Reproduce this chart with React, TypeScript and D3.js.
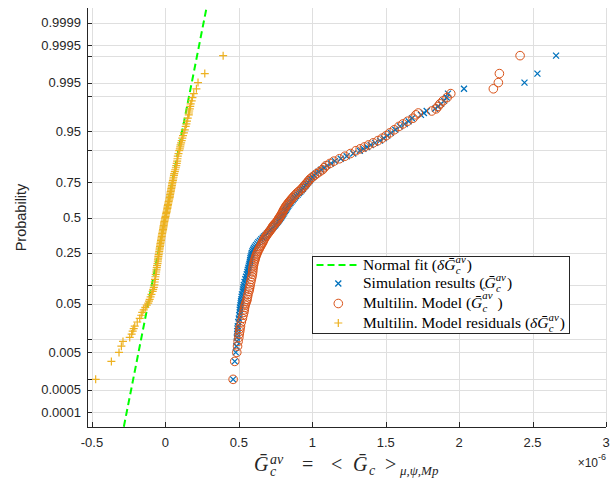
import React from 'react';
import * as d3 from 'd3';

// ---- data (values in units of 1e-6) ----
const N_SAMPLES = 500;
const ranks = [1, 2, 3, 4, 5, 6, 7, 8, 9, 10, 12, 14, 16, 18, 20, 22, 24, 26, 28, 30, 33, 36, 40, 43, 46,
  50, 55, 60, 65, 70, 75, 80, 85, 90, 95, 100, 105, 110, 115, 120, 125, 130, 135, 140, 145, 150, 155, 160, 165, 170, 175,
  180, 185, 190, 195, 200, 205, 210, 215, 220, 225, 230, 235, 240, 245, 250, 255, 260, 265, 270, 275, 280, 285, 290, 295, 300,
  305, 310, 315, 320, 325, 330, 335, 340, 345, 350, 355, 360, 365, 370, 375, 380, 385, 390, 395, 400, 405, 410, 415, 420, 425,
  430, 435, 440, 445, 450,
  453, 456, 459, 462, 465, 468, 471, 474, 477, 480, 482, 484, 486, 488, 489, 490, 491, 492, 493, 494, 495, 496, 497, 498, 499, 500];

const simulationValues = [0.461, 0.472, 0.479, 0.483, 0.486, 0.486, 0.489, 0.489, 0.491, 0.493, 0.496, 0.500, 0.503, 0.506, 0.506,
  0.508, 0.511, 0.513, 0.515, 0.517, 0.519, 0.521, 0.527, 0.529, 0.531,
  0.534, 0.539, 0.544, 0.549, 0.554, 0.558, 0.561, 0.565, 0.568, 0.572, 0.575, 0.577, 0.579, 0.581, 0.585, 0.588, 0.592, 0.597, 0.603, 0.609,
  0.617, 0.625, 0.633, 0.643, 0.653, 0.663, 0.672, 0.682, 0.691, 0.700, 0.709, 0.718, 0.727, 0.736, 0.745, 0.752, 0.759, 0.766, 0.773, 0.779,
  0.786, 0.792, 0.797, 0.803, 0.809, 0.814, 0.820, 0.826, 0.831, 0.837, 0.844, 0.851, 0.858, 0.866, 0.873, 0.881, 0.890, 0.900, 0.909, 0.918,
  0.927, 0.936, 0.945, 0.954, 0.963, 0.972, 0.981, 0.990, 1.002, 1.013, 1.025, 1.042, 1.059, 1.080, 1.100, 1.127, 1.154, 1.194, 1.234, 1.279, 1.324,
  1.348, 1.373, 1.398, 1.428, 1.461, 1.486, 1.510, 1.535, 1.565, 1.597, 1.629, 1.656, 1.679, 1.740, 1.760, 1.779,
  1.836, 1.856, 1.877, 1.897, 1.915, 1.924, 2.033, 2.445, 2.533, 2.660];

const modelValues = [0.461, 0.472, 0.486, 0.491, 0.495, 0.500, 0.503, 0.506, 0.508, 0.511, 0.517, 0.524, 0.529, 0.534, 0.537,
  0.539, 0.543, 0.547, 0.552, 0.556, 0.559, 0.562, 0.568, 0.571, 0.574,
  0.577, 0.581, 0.585, 0.589, 0.592, 0.594, 0.595, 0.597, 0.599, 0.602, 0.605, 0.609, 0.612, 0.616, 0.620, 0.625, 0.629, 0.635, 0.640, 0.646,
  0.652, 0.657, 0.663, 0.667, 0.672, 0.677, 0.684, 0.690, 0.697, 0.704, 0.711, 0.718, 0.724, 0.729, 0.735, 0.743, 0.751, 0.759, 0.765, 0.770,
  0.776, 0.782, 0.787, 0.793, 0.797, 0.802, 0.806, 0.812, 0.817, 0.823, 0.830, 0.837, 0.844, 0.852, 0.860, 0.868, 0.877, 0.886, 0.895, 0.906,
  0.918, 0.929, 0.938, 0.947, 0.956, 0.966, 0.975, 0.985, 0.999, 1.015, 1.031, 1.050, 1.069, 1.081, 1.093, 1.120, 1.147, 1.185, 1.222, 1.260, 1.297,
  1.326, 1.355, 1.383, 1.415, 1.447, 1.476, 1.503, 1.528, 1.558, 1.590, 1.617, 1.649, 1.686, 1.706, 1.722, 1.813,
  1.843, 1.856, 1.870, 1.890, 1.918, 1.943, 2.233, 2.267, 2.274, 2.415];

const residualValues = [-0.475, -0.368, -0.316, -0.300, -0.289, -0.243, -0.230, -0.223, -0.216, -0.209, -0.192, -0.175, -0.165, -0.158, -0.148,
  -0.137, -0.127, -0.117, -0.112, -0.107, -0.101, -0.095, -0.087, -0.083, -0.079,
  -0.075, -0.073, -0.071, -0.068, -0.066, -0.063, -0.061, -0.059, -0.057, -0.054, -0.052, -0.051, -0.049, -0.048, -0.046, -0.044, -0.042, -0.040, -0.039, -0.037,
  -0.035, -0.034, -0.032, -0.030, -0.029, -0.027, -0.025, -0.024, -0.022, -0.020, -0.018, -0.016, -0.015, -0.013, -0.012, -0.010, -0.009, -0.007, -0.005, -0.003,
  -0.001, 0.001, 0.003, 0.005, 0.007, 0.009, 0.011, 0.013, 0.014, 0.016, 0.018, 0.020, 0.022, 0.024, 0.027, 0.029, 0.031, 0.032, 0.034, 0.036,
  0.038, 0.040, 0.042, 0.044, 0.046, 0.048, 0.051, 0.053, 0.055, 0.058, 0.060, 0.064, 0.067, 0.071, 0.074, 0.077, 0.080, 0.082, 0.084, 0.089, 0.094,
  0.098, 0.101, 0.103, 0.107, 0.111, 0.115, 0.120, 0.126, 0.132, 0.138, 0.143, 0.147, 0.152, 0.159, 0.160, 0.162,
  0.166, 0.169, 0.172, 0.179, 0.184, 0.193, 0.211, 0.222, 0.268, 0.393];

const fitMean = -0.002;
const fitStd = 0.0704;

const xTicks = [-0.5, 0, 0.5, 1, 1.5, 2, 2.5, 3];
const yTickProbs = [0.0001, 0.0005, 0.001, 0.005, 0.01, 0.05, 0.1, 0.25, 0.5, 0.75, 0.9, 0.95, 0.99, 0.995, 0.999, 0.9995, 0.9999];
const yTickLabels = ['0.0001', '0.0005', '', '0.005', '', '0.05', '', '0.25', '0.5', '0.75', '', '0.95', '', '0.995', '', '0.9995', '0.9999'];

const COLORS = { sim: '#0072BD', model: '#D95319', resid: '#EDB120', fit: '#00FF00', axis: '#262626', grid: '#dfdfdf' };

// inverse standard normal CDF (Acklam)
function normInv(p: number): number {
  const a = [-3.969683028665376e+01, 2.209460984245205e+02, -2.759285104469687e+02, 1.383577518672690e+02, -3.066479806614716e+01, 2.506628277459239e+00];
  const b = [-5.447609879822406e+01, 1.615858368580409e+02, -1.556989798598866e+02, 6.680131188771972e+01, -1.328068155288572e+01];
  const c = [-7.784894002430293e-03, -3.223964580411365e-01, -2.400758277161838e+00, -2.549671893984431e+00, 4.374664141464968e+00, 2.938163982698783e+00];
  const d = [7.784695709041462e-03, 3.224671290700398e-01, 2.445134137142996e+00, 3.754408661907416e+00];
  const plow = 0.02425, phigh = 1 - plow;
  if (p < plow) {
    const q = Math.sqrt(-2 * Math.log(p));
    return (((((c[0] * q + c[1]) * q + c[2]) * q + c[3]) * q + c[4]) * q + c[5]) / ((((d[0] * q + d[1]) * q + d[2]) * q + d[3]) * q + 1);
  }
  if (p <= phigh) {
    const q = p - 0.5, r = q * q;
    return (((((a[0] * r + a[1]) * r + a[2]) * r + a[3]) * r + a[4]) * r + a[5]) * q / (((((b[0] * r + b[1]) * r + b[2]) * r + b[3]) * r + b[4]) * r + 1);
  }
  const q = Math.sqrt(-2 * Math.log(1 - p));
  return -(((((c[0] * q + c[1]) * q + c[2]) * q + c[3]) * q + c[4]) * q + c[5]) / ((((d[0] * q + d[1]) * q + d[2]) * q + d[3]) * q + 1);
}

const W = 616, H = 478;
const L = 87, R = 606, T = 8, B = 427;
const x = d3.scaleLinear().domain([-0.534, 3]).range([L, R]);
const z = d3.scaleLinear().domain([-4, 4]).range([B, T]);
const yP = (p: number) => z(normInv(p));
const rankProb = (r: number) => (r - 0.5) / N_SAMPLES;

const SANS = '"Liberation Sans", Arial, Helvetica, sans-serif';
const SERIF = '"Liberation Serif", "Times New Roman", serif';

function XMark({ cx, cy, s = 3 }: { cx: number; cy: number; s?: number }) {
  return <path d={`M${cx - s},${cy - s}L${cx + s},${cy + s}M${cx - s},${cy + s}L${cx + s},${cy - s}`} stroke={COLORS.sim} strokeWidth={1.3} fill="none" />;
}
function OMark({ cx, cy }: { cx: number; cy: number }) {
  return <circle cx={cx} cy={cy} r={4.3} stroke={COLORS.model} strokeWidth={1} fill="none" />;
}
function PMark({ cx, cy, s = 4 }: { cx: number; cy: number; s?: number }) {
  return <path d={`M${cx - s},${cy}H${cx + s}M${cx},${cy - s}V${cy + s}`} stroke={COLORS.resid} strokeWidth={1.2} fill="none" />;
}

// G with bar, and stacked super/sub scripts
function GBar({ sub = 'c', sup = 'av', fs, supW, subW, supRaise = 0.42 }: any) {
  return (
    <>
      <tspan fontStyle="italic">{'G\u0304'}</tspan>
      <tspan fontStyle="italic" fontSize={fs * 0.7} dy={-fs * supRaise}>{sup}</tspan>
      <tspan fontStyle="italic" fontSize={fs * 0.7} dx={-supW} dy={fs * supRaise + fs * 0.28}>{sub}</tspan>
      <tspan fontSize={fs} dx={supW - subW} dy={-fs * 0.28}>{'\u200A'}</tspan>
    </>
  );
}

export default function App() {
  const fitLine = d3.line<number>().x((zz) => x(fitMean + fitStd * zz)).y((zz) => z(zz));
  const legendFs = 15.5;
  const legendX = 363;
  const rowsY = [269.5, 288, 308, 327.5];
  const supW = 10, subW = 5;
  return (
    <svg width={W} height={H} style={{ position: 'absolute', left: 0, top: 0, background: '#fff' }}>
      <defs>
        <clipPath id="plotclip"><rect x={L} y={T} width={R - L} height={B - T} /></clipPath>
      </defs>
      <rect x={0} y={0} width={W} height={H} fill="#fff" />
      {/* grid */}
      <g stroke={COLORS.grid} strokeWidth={1}>
        {xTicks.map((t) => <line key={'gx' + t} x1={Math.round(x(t)) + 0.5} x2={Math.round(x(t)) + 0.5} y1={T} y2={B} />)}
        {yTickProbs.map((p) => <line key={'gy' + p} x1={L} x2={R} y1={Math.round(yP(p)) + 0.5} y2={Math.round(yP(p)) + 0.5} />)}
      </g>
      {/* data */}
      <g clipPath="url(#plotclip)">
        <path d={fitLine([-4.2, 4.2]) || ''} stroke={COLORS.fit} strokeWidth={2} strokeDasharray="7,4" fill="none" />
        {ranks.map((r, i) => <XMark key={'s' + i} cx={x(simulationValues[i])} cy={yP(rankProb(r))} />)}
        {ranks.map((r, i) => <OMark key={'m' + i} cx={x(modelValues[i])} cy={yP(rankProb(r))} />)}
        {ranks.map((r, i) => <PMark key={'r' + i} cx={x(residualValues[i])} cy={yP(rankProb(r))} />)}
      </g>
      {/* axes */}
      <g stroke={COLORS.axis} strokeWidth={1} fill="none">
        <line x1={L + 0.5} x2={L + 0.5} y1={T} y2={B + 0.5} />
        <line x1={L} x2={R} y1={B + 0.5} y2={B + 0.5} />
        {xTicks.map((t) => <line key={'tx' + t} x1={Math.round(x(t)) + 0.5} x2={Math.round(x(t)) + 0.5} y1={B} y2={B - 5} />)}
        {yTickProbs.map((p) => <line key={'ty' + p} x1={L} x2={L + 5} y1={Math.round(yP(p)) + 0.5} y2={Math.round(yP(p)) + 0.5} />)}
      </g>
      <g fontFamily={SANS} fontSize={13} fill={COLORS.axis}>
        {xTicks.map((t) => <text key={'lx' + t} x={x(t)} y={447} textAnchor="middle">{String(t)}</text>)}
        {yTickProbs.map((p, i) => yTickLabels[i] ? <text key={'ly' + p} x={81} y={yP(p)} dy="0.35em" textAnchor="end">{yTickLabels[i]}</text> : null)}
        <text transform="translate(26,217.5) rotate(-90)" textAnchor="middle" fontSize={14.5}>Probability</text>
        <text x={598} y={467} textAnchor="end" fontSize={12}>{'\u00D710'}</text>
        <text x={598} y={460} fontSize={9}>-6</text>
      </g>
      {/* x label */}
      <g fontFamily={SERIF} fill={COLORS.axis}>
        <text x={254} y={471} fontSize={20} fontStyle="italic">{'G\u0304'}</text>
        <text x={270} y={464} fontSize={14} fontStyle="italic">av</text>
        <text x={270} y={476} fontSize={14} fontStyle="italic">c</text>
        <text x={302} y={471} fontSize={20}>=</text>
        <text x={331} y={471} fontSize={20}>{'<'}</text>
        <text x={353} y={471} fontSize={20} fontStyle="italic">{'G\u0304'}</text>
        <text x={369} y={475} fontSize={14} fontStyle="italic">c</text>
        <text x={385} y={471} fontSize={20}>{'>'}</text>
        <text x={400} y={475} fontSize={13} fontStyle="italic">{'\u03BC,\u03C8,Mp'}</text>
      </g>
      {/* legend */}
      <rect x={312.5} y={256.5} width={257} height={77} fill="#fff" stroke={COLORS.axis} strokeWidth={1} />
      <line x1={316.5} x2={360} y1={rowsY[0] - 4.5} y2={rowsY[0] - 4.5} stroke={COLORS.fit} strokeWidth={2} strokeDasharray="7,4" />
      <XMark cx={338.3} cy={rowsY[1] - 4.5} />
      <OMark cx={338.3} cy={rowsY[2] - 4.5} />
      <PMark cx={338.3} cy={rowsY[3] - 4.5} />
      <g fontFamily={SERIF} fontSize={legendFs} fill="#000">
        <text x={legendX} y={rowsY[0]}>{'Normal fit ('}<tspan fontStyle="italic">{'\u03B4'}</tspan><GBar fs={legendFs} supW={supW} subW={subW} />{')'}</text>
        <text x={legendX} y={rowsY[1]}>{'Simulation results ('}<GBar fs={legendFs} supW={supW} subW={subW} />{')'}</text>
        <text x={legendX} y={rowsY[2]}>{'Multilin. Model ('}<GBar fs={legendFs} supW={supW} subW={subW} supRaise={0.55} />{' )'}</text>
        <text x={legendX} y={rowsY[3]}>{'Multilin. Model residuals ('}<tspan fontStyle="italic">{'\u03B4'}</tspan><GBar fs={legendFs} supW={supW} subW={subW} />{')'}</text>
        <text x={484} y={rowsY[2] - 13} fontSize={11} textAnchor="middle">{'\u02C6'}</text>
      </g>
    </svg>
  );
}
